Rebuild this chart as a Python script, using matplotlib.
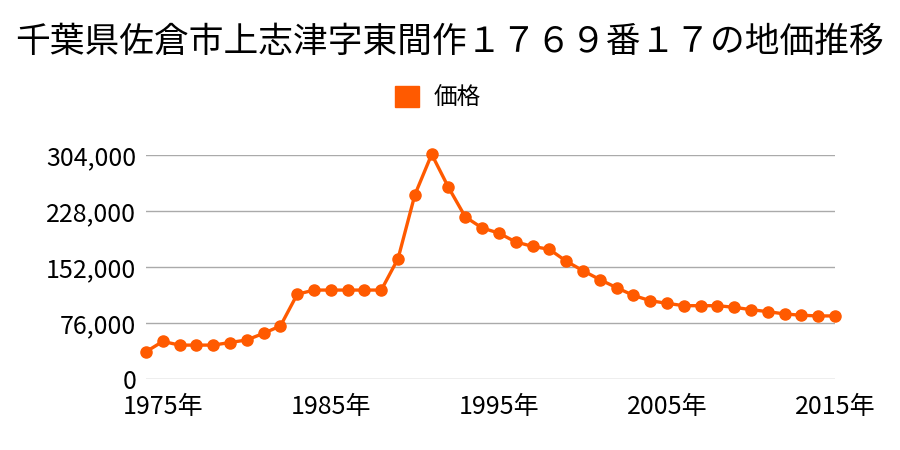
import matplotlib.pyplot as plt
from matplotlib.patches import Patch

plt.rcParams['font.family'] = ['Noto Sans CJK JP', 'DejaVu Sans']

title = '千葉県佐倉市上志津字東間作１７６９番１７の地価推移'
series_name = '価格'
years = list(range(1974, 2016))
prices = [37000, 51000, 46000, 46000, 46000, 49500, 53000, 62000, 72000, 115000,
          120700, 120700, 120700, 120700, 120700, 163500, 250000, 305000, 260000, 220000,
          205000, 198000, 186000, 180000, 176000, 160000, 147000, 135000, 124000, 113500,
          106300, 102700, 99500, 99500, 99500, 97300, 94100, 91400, 88300, 86500,
          85600, 85600]
yticks = [0, 76000, 152000, 228000, 304000]
xticks = [1975, 1985, 1995, 2005, 2015]

color = '#ff5a00'

fig = plt.figure(figsize=(9, 4.5), dpi=100)
ax = fig.add_axes([146 / 900, 71 / 450, 689 / 900, 224 / 450])

ax.plot(years, prices, color=color, lw=2.4, marker='o', ms=8, clip_on=False, zorder=3)

ax.set_xlim(1974, 2015)
ax.set_ylim(0, 304000)
ax.set_yticks(yticks)
ax.set_yticklabels(['{:,}'.format(v) for v in yticks])
ax.set_xticks(xticks)
ax.set_xticklabels(['{}年'.format(y) for y in xticks])
ax.tick_params(length=0, labelsize=18)
ax.tick_params(axis='y', pad=7)
ax.tick_params(axis='x', pad=11)
ax.grid(axis='y', color='#aaaaaa', lw=1)
ax.set_axisbelow(True)
for s in ax.spines.values():
    s.set_visible(False)

fig.text(0.5, 1 - 42 / 450, title, ha='center', va='center', fontsize=25)

fig.legend(handles=[Patch(color=color, label=series_name)], loc='center',
           bbox_to_anchor=(438 / 900, 1 - 98 / 450), frameon=False, fontsize=17,
           handlelength=1.0, handleheight=1.0, handletextpad=0.6)

fig.savefig('out.png', dpi=100)
